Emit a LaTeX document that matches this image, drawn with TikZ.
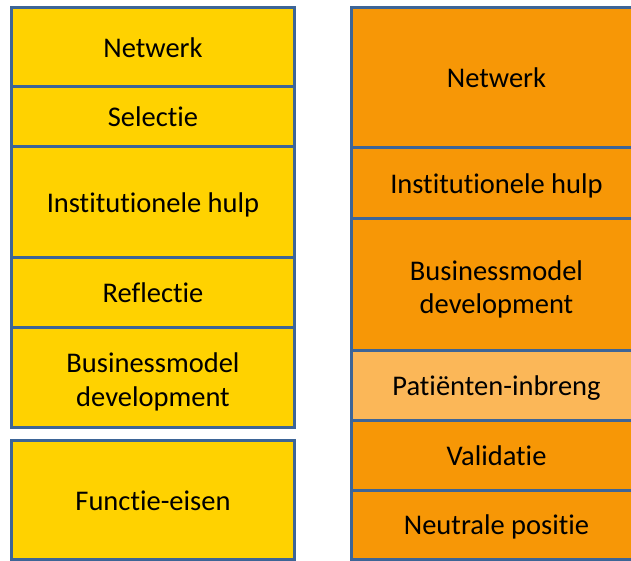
\documentclass[tikz,border=0pt]{standalone}
\usepackage{fontspec}
\setmainfont{Carlito}[RawFeature=-liga]
\definecolor{gold}{HTML}{FFD200}
\definecolor{orng}{HTML}{F79706}
\definecolor{lorng}{HTML}{FBB758}
\definecolor{edge}{HTML}{3D6597}
\tikzset{
  cell/.style={draw=edge, line width=3pt, inner sep=0pt, align=center,
    font=\fontsize{28.5}{33.5}\selectfont, text=black,
    text height=20pt, text depth=0pt},
  ycell/.style={cell, fill=gold, minimum width=283pt},
  ocell/.style={cell, fill=orng, minimum width=290pt},
  lcell/.style={cell, fill=lorng, minimum width=290pt},
  twoline/.style={inner sep=0pt, align=center,
    font=\fontsize{28.5}{33.5}\selectfont, text=black},
}
\begin{document}
\begin{tikzpicture}[x=1pt,y=-1pt]
\useasboundingbox (0,0) rectangle (631,561);
\fill[white] (0,0) rectangle (631,561);
\clip (0,0) rectangle (631,561);
% left column
\node[ycell, minimum height=79.5pt] (l1) at (153,47.25) {Netwerk};
\node[ycell, minimum height=60pt] (l2) at (153,117) {Selectie};
\node[ycell, minimum height=110.5pt] (l3) at (153,202.25) {Institutionele hulp};
\node[ycell, minimum height=69.5pt] (l4) at (153,292.25) {Reflectie};
\node[ycell, minimum height=100pt] (l5) at (153,377) {};
\node[twoline] (l5t) at (153,382) {Businessmodel\\development};
\node[ycell, minimum height=119pt] (l6) at (153,500) {Functie-eisen};
% right column
\node[ocell, minimum height=140.5pt] (r1) at (496.5,77.75) {Netwerk};
\node[ocell, minimum height=71pt] (r2) at (496.5,183.5) {Institutionele hulp};
\node[ocell, minimum height=131pt] (r3) at (496.5,284.5) {};
\node[twoline] (r3t) at (496.5,289.5) {Businessmodel\\development};
\node[lcell, minimum height=70pt] (r4) at (496.5,385) {Patiënten-inbreng};
\node[ocell, minimum height=70pt] (r5) at (496.5,455) {Validatie};
\node[ocell, minimum height=69.5pt] (r6) at (496.5,524.75) {Neutrale positie};
\end{tikzpicture}
\end{document}
